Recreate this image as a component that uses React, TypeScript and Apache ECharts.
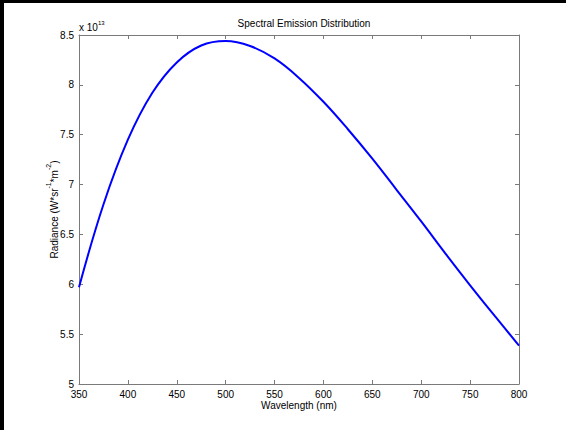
import React, { useEffect, useRef } from "react";
import * as echarts from "echarts";

const wavelengths = [350, 375, 400, 425, 450, 475, 500, 525, 550, 575, 600, 625, 650, 675, 700, 725, 750, 775, 800];
const radiance = [5.97, 6.8, 7.45, 7.92, 8.225, 8.395, 8.44, 8.39, 8.265, 8.07, 7.83, 7.555, 7.26, 6.945, 6.63, 6.305, 5.99, 5.685, 5.385];
const xTicks = { min: 350, max: 800, step: 50 };
const yTicks = { min: 5, max: 8.5, step: 0.5 };
const titleText = "Spectral Emission Distribution";
const xName = "Wavelength (nm)";

const FONT = "Liberation Sans, Arial, Helvetica, sans-serif";

export default function App() {
  const ref = useRef<HTMLDivElement>(null);
  useEffect(() => {
    const chart = echarts.init(ref.current!, null, { renderer: "svg" });
    const data = wavelengths.map((w, i) => [w, radiance[i]]);
    const axisLine = { show: true, lineStyle: { color: "#7a7a7a", width: 1 } };
    const tick = { show: true, inside: true, length: 4, lineStyle: { color: "#7a7a7a" } };
    chart.setOption({
      animation: false,
      backgroundColor: "#ffffff",
      textStyle: { fontFamily: FONT },
      title: {
        text: titleText,
        left: 299,
        textAlign: "center",
        top: 13,
        textStyle: { fontFamily: FONT, fontSize: 10, fontWeight: "normal", color: "#000" },
      },
      grid: { left: 79, right: 47, top: 35, bottom: 46, containLabel: false },
      xAxis: [
        {
          type: "value",
          min: xTicks.min,
          max: xTicks.max,
          interval: xTicks.step,
          position: "bottom",
          axisLine,
          axisTick: tick,
          splitLine: { show: false },
          axisLabel: { fontFamily: FONT, fontSize: 10, color: "#000", margin: 5 },
          name: xName,
          nameLocation: "middle",
          nameGap: 16,
          nameMoveOverlap: false,
          nameTextStyle: { fontFamily: FONT, fontSize: 10, color: "#000" },
        },
        {
          type: "value",
          min: xTicks.min,
          max: xTicks.max,
          interval: xTicks.step,
          position: "top",
          axisLine,
          axisTick: tick,
          splitLine: { show: false },
          axisLabel: { show: false },
        },
      ],
      yAxis: [
        {
          type: "value",
          min: yTicks.min,
          max: yTicks.max,
          interval: yTicks.step,
          position: "left",
          axisLine,
          axisTick: tick,
          splitLine: { show: false },
          axisLabel: {
            fontFamily: FONT,
            fontSize: 10,
            color: "#000",
            margin: 5,
            formatter: (v: number) => String(v),
          },
          name: "{n|Radiance (W*sr}{s|-1}{n|*m}{s|-2}{n|)}",
          nameLocation: "middle",
          nameRotate: 90,
          nameGap: 20,
          nameMoveOverlap: false,
          nameTextStyle: {
            rich: {
              n: { fontFamily: FONT, fontSize: 10, color: "#000", lineHeight: 14, verticalAlign: "bottom" },
              s: { fontFamily: FONT, fontSize: 7, color: "#000", lineHeight: 14, verticalAlign: "top" },
            },
          },
        },
        {
          type: "value",
          min: yTicks.min,
          max: yTicks.max,
          interval: yTicks.step,
          position: "right",
          axisLine,
          axisTick: tick,
          splitLine: { show: false },
          axisLabel: { show: false },
        },
      ],
      graphic: [
        { type: "rect", left: 0, top: 0, shape: { width: 566, height: 3 }, style: { fill: "#000" } },
        { type: "rect", left: 0, top: 0, shape: { width: 4, height: 430 }, style: { fill: "#000" } },
        {
          type: "text",
          left: 79,
          top: 20,
          style: {
            text: "{n|x 10}{s|13}",
            rich: {
              n: { fontFamily: FONT, fontSize: 10, fill: "#000", lineHeight: 12, verticalAlign: "bottom" },
              s: { fontFamily: FONT, fontSize: 6, fill: "#000", lineHeight: 12, verticalAlign: "top" },
            },
          },
        },
      ],
      series: [
        {
          type: "line",
          data,
          smooth: 0.4,
          showSymbol: false,
          symbol: "none",
          xAxisIndex: 0,
          yAxisIndex: 0,
          lineStyle: { color: "#0000ff", width: 2 },
          clip: true,
        },
      ],
    });
    return () => chart.dispose();
  }, []);
  return (
    <div
      ref={ref}
      style={{ position: "fixed", left: 0, top: 0, width: 566, height: 430, background: "#fff" }}
    />
  );
}
